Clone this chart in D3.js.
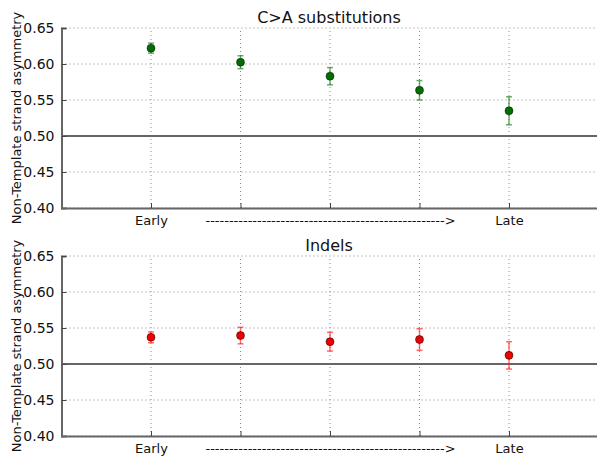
<!DOCTYPE html>
<html>
<head>
<meta charset="utf-8">
<script src="https://cdn.jsdelivr.net/npm/d3@7"></script>
<style>
  body { margin: 0; background: #fff; }
  svg { display: block; font-family: "DejaVu Sans", sans-serif; }
</style>
</head>
<body>
<div id="chart"></div>
<script>
// Data
const positions = [0, 1, 2, 3, 4];
const tickLabels = ["Early", "", "--------------------------------------------------->", "", "Late"];
const yTicks = [0.40, 0.45, 0.50, 0.55, 0.60, 0.65];

const caValues = [0.622, 0.6025, 0.583, 0.5635, 0.535];
const caErrors = [0.007, 0.009, 0.012, 0.0135, 0.0195];

const indelValues = [0.537, 0.5395, 0.531, 0.534, 0.512];
const indelErrors = [0.0075, 0.0115, 0.013, 0.015, 0.019];

const width = 597;
const height = 460;

const svg = d3.select("#chart")
    .append("svg")
    .attr("width", width)
    .attr("height", height);

const x = d3.scaleLinear().domain([-1, 5]).range([61.5, 598.5]);

function panel(top, title, values, errors, fill, barColor) {
    const y = d3.scaleLinear().domain([0.40, 0.65]).range([top + 180, top]);
    const g = svg.append("g");

    // grid lines
    g.selectAll(".hgrid")
        .data(yTicks)
        .enter().append("line")
        .attr("x1", x(-1)).attr("x2", x(5))
        .attr("y1", d => y(d)).attr("y2", d => y(d))
        .attr("stroke", "#888")
        .attr("stroke-width", 1)
        .attr("stroke-dasharray", "1,3");

    g.selectAll(".vgrid")
        .data(positions)
        .enter().append("line")
        .attr("x1", d => x(d)).attr("x2", d => x(d))
        .attr("y1", y(0.40)).attr("y2", y(0.65))
        .attr("stroke", "#888")
        .attr("stroke-width", 1)
        .attr("stroke-dasharray", "1,3");

    // reference line at 0.5
    g.append("line")
        .attr("x1", x(-1)).attr("x2", x(5))
        .attr("y1", y(0.5)).attr("y2", y(0.5))
        .attr("stroke", "#666")
        .attr("stroke-width", 2);

    // axes
    const yAxis = d3.axisLeft(y).tickValues(yTicks).tickFormat(d3.format(".2f")).tickSize(-5).tickPadding(7);
    const yg = g.append("g").attr("transform", `translate(${x(-1)},0)`).call(yAxis);
    yg.select(".domain").attr("stroke", "#666").attr("stroke-width", 2);
    yg.selectAll(".tick line").attr("stroke", "#444");
    yg.selectAll("text").attr("font-size", "14px").attr("fill", "#111").attr("font-family", "DejaVu Sans");

    const xAxis = d3.axisBottom(x).tickValues(positions).tickFormat((d, i) => tickLabels[i]).tickSize(-5).tickPadding(8);
    const xg = g.append("g").attr("transform", `translate(0,${y(0.40)})`).call(xAxis);
    xg.select(".domain").attr("stroke", "#666").attr("stroke-width", 2);
    xg.selectAll(".tick line").attr("stroke", "#444");
    xg.selectAll("text").attr("font-size", "13px").attr("fill", "#111").attr("font-family", "DejaVu Sans");

    // title
    g.append("text")
        .attr("x", 329)
        .attr("y", top - 5)
        .attr("text-anchor", "middle")
        .attr("font-size", "16px")
        .attr("fill", "#111")
        .text(title);

    // y label
    g.append("text")
        .attr("transform", `translate(21,${top + 90}) rotate(-90)`)
        .attr("text-anchor", "middle")
        .attr("font-size", "13px")
        .attr("fill", "#111")
        .text("Non-Template strand asymmetry");

    // error bars
    const eb = g.append("g")
        .attr("stroke", barColor)
        .attr("stroke-opacity", 0.65)
        .attr("stroke-width", 1.5);
    eb.selectAll(".bar")
        .data(values)
        .enter().append("line")
        .attr("x1", (d, i) => x(positions[i])).attr("x2", (d, i) => x(positions[i]))
        .attr("y1", (d, i) => y(d - errors[i])).attr("y2", (d, i) => y(d + errors[i]));
    eb.selectAll(".capTop")
        .data(values)
        .enter().append("line")
        .attr("x1", (d, i) => x(positions[i]) - 3).attr("x2", (d, i) => x(positions[i]) + 3)
        .attr("y1", (d, i) => y(d + errors[i])).attr("y2", (d, i) => y(d + errors[i]));
    eb.selectAll(".capBot")
        .data(values)
        .enter().append("line")
        .attr("x1", (d, i) => x(positions[i]) - 3).attr("x2", (d, i) => x(positions[i]) + 3)
        .attr("y1", (d, i) => y(d - errors[i])).attr("y2", (d, i) => y(d - errors[i]));

    // markers
    g.selectAll(".pt")
        .data(values)
        .enter().append("circle")
        .attr("cx", (d, i) => x(positions[i]))
        .attr("cy", d => y(d))
        .attr("r", 4)
        .attr("fill", fill)
        .attr("stroke", "#000")
        .attr("stroke-opacity", 0.6)
        .attr("stroke-width", 0.8);
}

panel(28, "C>A substitutions", caValues, caErrors, "#007000", "#208020");
panel(256, "Indels", indelValues, indelErrors, "#ee0000", "#ff2020");
</script>
</body>
</html>
